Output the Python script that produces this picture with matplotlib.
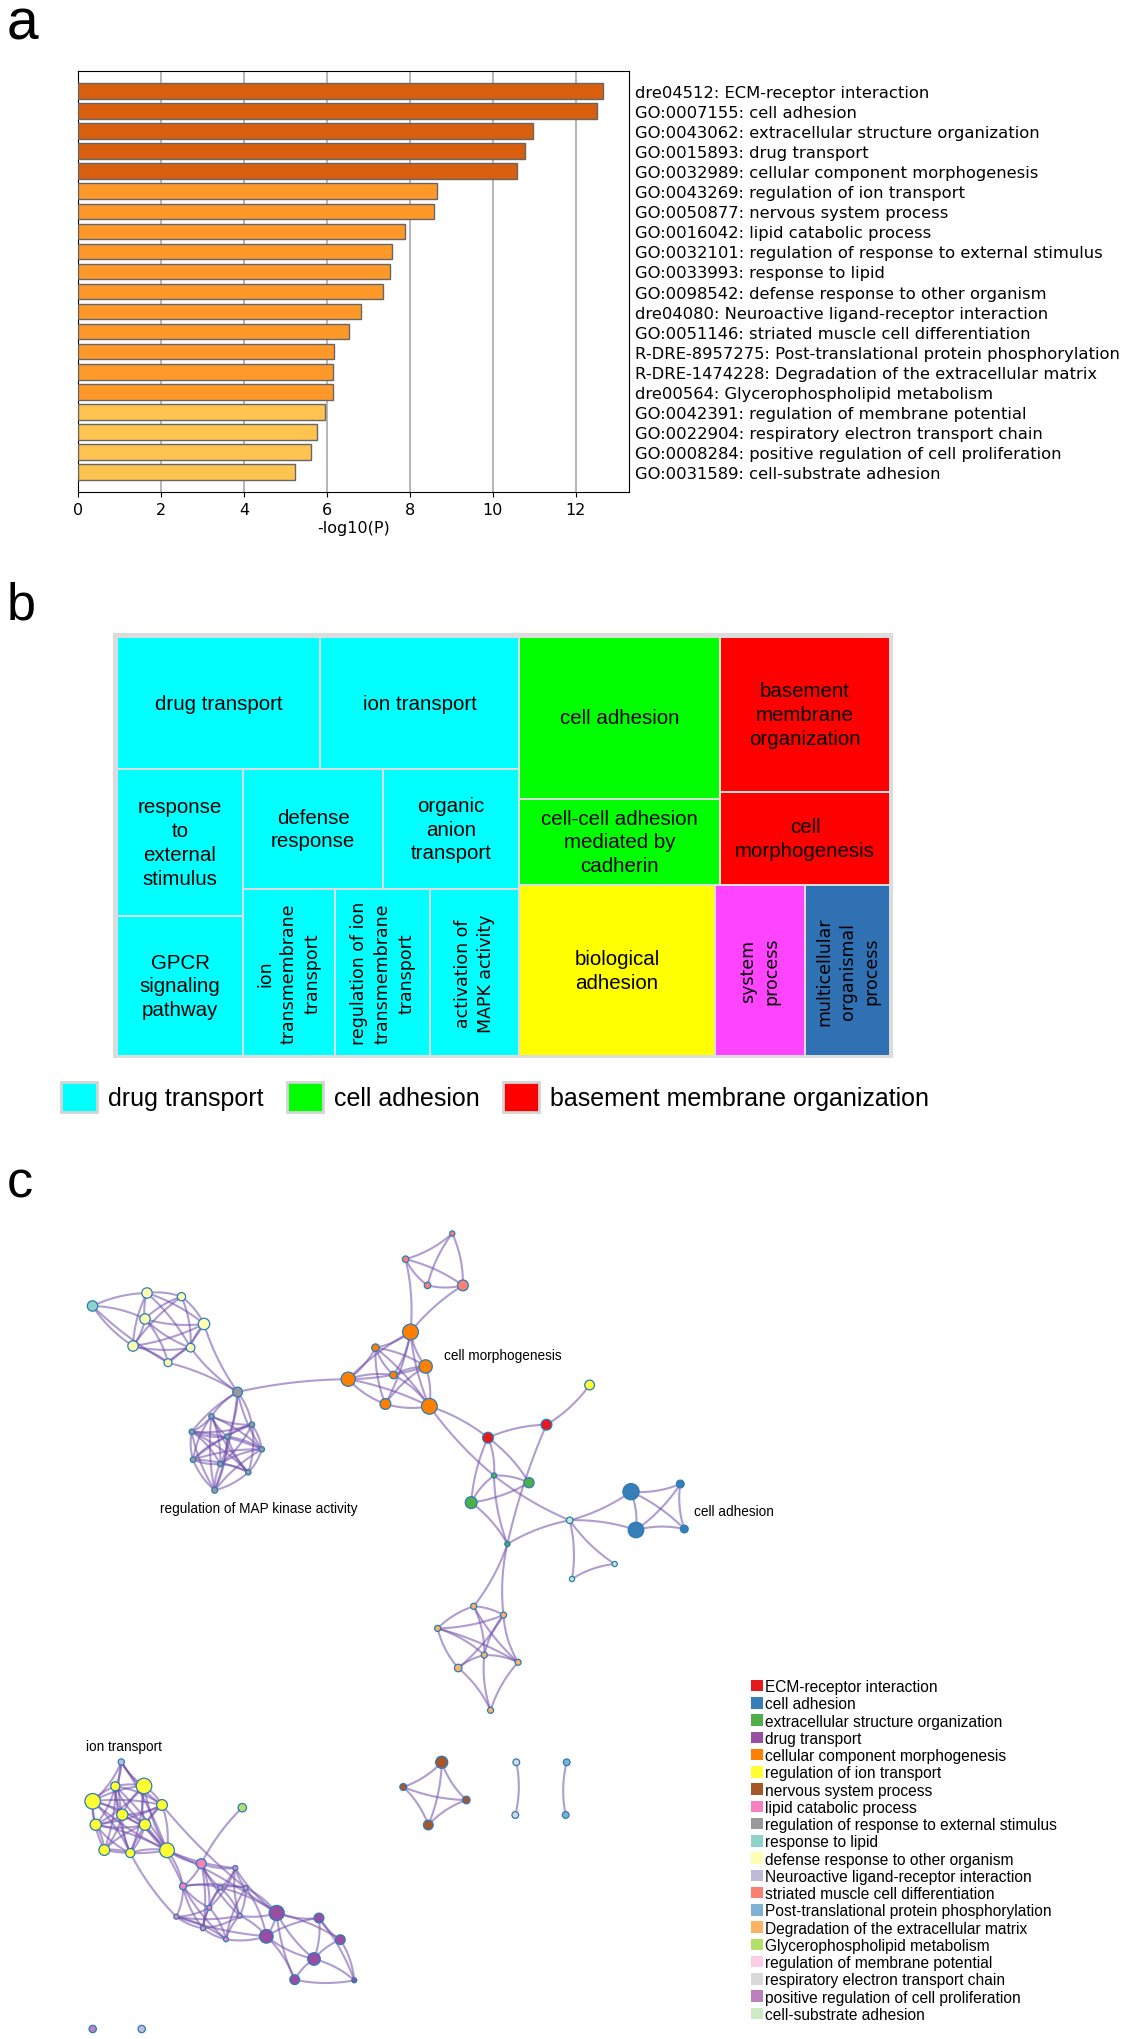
import numpy as np
import matplotlib.pyplot as plt
from matplotlib.patches import Rectangle, Patch
from matplotlib.collections import LineCollection

W, H = 1126, 2040

# ---------------- panel a: enrichment bars ----------------
terms = [
    "dre04512: ECM-receptor interaction",
    "GO:0007155: cell adhesion",
    "GO:0043062: extracellular structure organization",
    "GO:0015893: drug transport",
    "GO:0032989: cellular component morphogenesis",
    "GO:0043269: regulation of ion transport",
    "GO:0050877: nervous system process",
    "GO:0016042: lipid catabolic process",
    "GO:0032101: regulation of response to external stimulus",
    "GO:0033993: response to lipid",
    "GO:0098542: defense response to other organism",
    "dre04080: Neuroactive ligand-receptor interaction",
    "GO:0051146: striated muscle cell differentiation",
    "R-DRE-8957275: Post-translational protein phosphorylation",
    "R-DRE-1474228: Degradation of the extracellular matrix",
    "dre00564: Glycerophospholipid metabolism",
    "GO:0042391: regulation of membrane potential",
    "GO:0022904: respiratory electron transport chain",
    "GO:0008284: positive regulation of cell proliferation",
    "GO:0031589: cell-substrate adhesion",
]
logp = [12.66, 12.51, 10.97, 10.77, 10.57, 8.66, 8.57, 7.88, 7.57, 7.51,
        7.36, 6.82, 6.54, 6.17, 6.14, 6.14, 5.96, 5.77, 5.62, 5.23]

# ---------------- panel b: treemap ----------------
tm_labels = ["drug transport", "ion transport", "response\nto\nexternal\nstimulus",
             "defense\nresponse", "organic\nanion\ntransport", "GPCR\nsignaling\npathway",
             "ion\ntransmembrane\ntransport", "regulation of ion\ntransmembrane\ntransport",
             "activation of\nMAPK activity", "cell adhesion",
             "cell-cell adhesion\nmediated by\ncadherin", "basement\nmembrane\norganization",
             "cell\nmorphogenesis", "biological\nadhesion", "system\nprocess",
             "multicellular\norganismal\nprocess"]
tm_x0 = [0, 203, 0, 126, 266, 0, 126, 218, 313, 402, 402, 603, 603, 402, 598, 688]
tm_x1 = [203, 402, 126, 266, 402, 126, 218, 313, 402, 603, 603, 773, 773, 598, 688, 773]
tm_y0 = [0, 0, 132, 132, 132, 279, 252, 252, 252, 0, 162, 0, 155, 248, 248, 248]
tm_y1 = [132, 132, 279, 252, 252, 419, 419, 419, 419, 162, 248, 155, 248, 419, 419, 419]
tm_group = ["drug"] * 9 + ["adh"] * 2 + ["bm"] * 2 + ["bio", "sys", "multi"]
tm_vertical = [0, 0, 0, 0, 0, 0, 1, 1, 1, 0, 0, 0, 0, 0, 1, 1]
group_colors = {"drug": "#00FFFF", "adh": "#00FF00", "bm": "#FF0000",
                "bio": "#FFFF00", "sys": "#FF44FF", "multi": "#3071B3"}

# ---------------- panel c: network ----------------
cat_names = ["ECM-receptor interaction", "cell adhesion", "extracellular structure organization",
             "drug transport", "cellular component morphogenesis", "regulation of ion transport",
             "nervous system process", "lipid catabolic process",
             "regulation of response to external stimulus", "response to lipid",
             "defense response to other organism", "Neuroactive ligand-receptor interaction",
             "striated muscle cell differentiation", "Post-translational protein phosphorylation",
             "Degradation of the extracellular matrix", "Glycerophospholipid metabolism",
             "regulation of membrane potential", "respiratory electron transport chain",
             "positive regulation of cell proliferation", "cell-substrate adhesion"]
cat_colors = ["#E41A1C", "#377EB8", "#4DAF4A", "#984EA3", "#FF7F00", "#FFFF33", "#A65628",
              "#F781BF", "#999999", "#8DD3C7", "#FFFFB3", "#BEBADA", "#FB8072", "#80B1D3",
              "#FDB462", "#B3DE69", "#FCCDE5", "#D9D9D9", "#BC80BD", "#CCEBC5"]

node_id = ["D0", "D1", "D2", "D3", "D4", "D5", "D6", "D7", "G0",
           "M0", "M1", "M2", "M3", "M4", "M5", "M6", "M7", "M8",
           "O0", "O1", "O2", "O3", "O4", "O5", "O6",
           "S0", "S1", "S2", "S3", "Y0", "R0", "R1",
           "G1", "G2", "G3", "G4", "P0", "P1", "P2", "B0", "B1", "B2", "B3",
           "E0", "E1", "E2", "E3", "E4", "E5", "E6",
           "L0", "I1", "I2", "I3", "I4", "I5", "I6", "I7", "I8", "I9", "I10", "GL",
           "K0", "K1", "K2", "K3", "K4", "K5", "K6", "K7", "K8", "K9",
           "U0", "U1", "U2", "U3", "U4", "U5", "U6",
           "N0", "N1", "N2", "N3", "T0", "T1", "Q0", "Q1", "X0", "X1"]
node_x = [92.5, 147, 181.5, 145, 204, 133, 190.6, 168, 237.6,
          211.5, 251.9, 191.8, 227.4, 261.8, 193, 220.2, 248.3, 214.7,
          410.5, 375.5, 425.6, 393.4, 348.2, 385.4, 429.4,
          452.3, 405.6, 427.5, 462.9, 589.6, 488, 546.5,
          494, 529, 471.2, 507.4, 569.7, 614.7, 572, 631, 636, 680.3, 684.3,
          473.7, 503.5, 437.6, 484.3, 458.2, 518.1, 490.6,
          121.3, 115.3, 144, 92.7, 162, 122.3, 95.7, 145, 104.3, 130.3, 167, 242.3,
          201.3, 235.3, 183, 220.3, 245.7, 209.3, 176.3, 239.7, 203, 226,
          276.7, 266.3, 319, 340.3, 314, 294.7, 354.3,
          441.7, 403.3, 466.3, 428.3, 516.3, 515.3, 566.7, 565.7, 92.7, 141.7]
node_y = [1307, 1294, 1297.7, 1320, 1325, 1347, 1348.7, 1363.7, 1393,
          1417.3, 1425.7, 1432.7, 1437.7, 1450.3, 1460.7, 1465, 1473.3, 1491.3,
          1333, 1348.7, 1367.5, 1376, 1380.2, 1405, 1407.3,
          1234.5, 1260.2, 1286.4, 1286.4, 1386, 1438.7, 1425.7,
          1476.5, 1483.7, 1503.6, 1545, 1521.3, 1565, 1580, 1492.7, 1531, 1485, 1530,
          1607.3, 1616.1, 1629.4, 1656.1, 1669, 1663.3, 1711.3,
          1763, 1787.3, 1787, 1802.3, 1806, 1815.7, 1825.7, 1825.7, 1851, 1854, 1851.3, 1808.7,
          1864.7, 1869, 1887.3, 1888.7, 1889, 1908.7, 1917.7, 1916.7, 1929.3, 1940.3,
          1914, 1937.3, 1919, 1940.7, 1960, 1980.7, 1981.3,
          1763.3, 1788, 1801, 1826, 1763.3, 1816, 1763.3, 1816, 2030, 2030]
node_r = [4.8, 4.8, 3.8, 4.8, 5.3, 4.8, 4.0, 3.7, 4.5,
          2.5, 2.5, 2.5, 2.5, 2.5, 2.5, 2.5, 2.5, 2.7,
          7.3, 3.5, 6.2, 3.5, 6.6, 5.0, 7.3,
          2.4, 3.0, 3.0, 5.0, 4.5, 5.0, 5.0,
          2.4, 4.7, 5.5, 2.4, 3.0, 2.4, 2.4, 7.5, 7.2, 3.6, 3.6,
          2.8, 2.8, 2.8, 2.8, 3.5, 2.8, 2.8,
          2.9, 4.2, 7.2, 7.2, 5.0, 5.2, 5.2, 5.2, 5.0, 4.2, 6.8, 3.9,
          4.6, 2.3, 3.2, 2.3, 2.3, 2.3, 2.3, 2.3, 2.3, 2.3,
          7.0, 6.3, 4.5, 4.5, 5.8, 4.5, 2.3,
          5.6, 3.2, 3.5, 4.5, 3.1, 3.1, 3.1, 3.1, 3.4, 3.4]
node_cat = [9, 10, 10, 10, 10, 10, 10, 10, 8,
            8, 8, 8, 8, 8, 8, 8, 8, 8,
            4, 4, 4, 4, 4, 4, 4,
            12, 12, 12, 12, 5, 0, 0,
            2, 2, 2, 2, 19, 19, 19, 1, 1, 1, 1,
            14, 14, 14, 14, 14, 14, 14,
            11, 5, 5, 5, 5, 5, 5, 5, 5, 5, 5, 15,
            7, 7, 7, 7, 7, 7, 7, 7, 7, 7,
            3, 3, 3, 3, 3, 3, 3,
            6, 6, 6, 6, 17, 17, 13, 13, 18, 11]

edges = """
D0-D1 D0-D5 D0-D3 D0-D7 D1-D2 D1-D3 D1-D4 D1-D5 D1-D6 D2-D3 D2-D4 D2-D5 D2-D6 D3-D4 D3-D5
D3-D6 D4-D5 D4-D6 D4-D7 D5-D6 D5-D7 D6-D7 D3-D7 D4-G0 D7-G0 D6-G0 G0-O4
G0-M0 G0-M1 G0-M2 G0-M3 G0-M4 G0-M8 M0-M1 M0-M2 M0-M3 M0-M4 M0-M5 M0-M6 M0-M8 M1-M2 M1-M3
M1-M4 M1-M5 M1-M7 M2-M3 M2-M4 M2-M5 M2-M6 M2-M8 M3-M4 M3-M5 M3-M6 M3-M7 M3-M8 M4-M6 M4-M7
M5-M6 M5-M7 M5-M8 M6-M7 M6-M8 M7-M8 M4-M8 M1-M6 M0-M7 M2-M7 M4-M5
O0-O1 O0-O2 O0-O3 O0-O4 O0-O5 O0-O6 O1-O2 O1-O3 O1-O4 O1-O5 O1-O6 O2-O3 O2-O4 O2-O5 O2-O6
O3-O4 O3-O6 O4-O5 O4-O6 O5-O6 S1-O0 S3-O0
S0-S1 S0-S2 S0-S3 S1-S2 S1-S3 S2-S3
O6-R0 O6-G1 R0-R1 R1-Y0 R0-G1 R0-G3 R0-G2 R1-G4 G1-G2 G1-G3 G2-G3 G1-G4 G3-G4 G1-P0
G4-P0 P0-B0 P0-B1 P0-P1 P0-P2 P1-P2 B0-B1 B0-B2 B0-B3 B1-B2 B1-B3 B2-B3 G4-E0 G4-E1
E0-E1 E0-E2 E0-E3 E0-E5 E1-E2 E1-E3 E1-E4 E1-E5 E2-E3 E2-E4 E2-E5 E3-E4 E3-E5 E3-E6 E4-E6
E5-E6
L0-I1 L0-I2 L0-I3 L0-I4 L0-I10 L0-I5 I1-I2 I1-I3 I1-I4 I1-I5 I1-I6 I1-I7 I1-I8 I1-I9 I1-I10
I2-I3 I2-I4 I2-I5 I2-I6 I2-I7 I2-I9 I2-I10 I3-I5 I3-I6 I3-I7 I3-I8 I3-I9 I3-I10 I4-I5 I4-I7
I4-I10 I4-I9 I5-I6 I5-I7 I5-I8 I5-I9 I5-I10 I6-I7 I6-I8 I6-I9 I6-I10 I7-I8 I7-I9 I7-I10
I8-I9 I8-I10 I9-I10 I10-K0 I10-K2 I10-K1 I7-K2 I4-K4 I10-U0 I9-K6 I3-I4 I6-I4
K0-GL K0-K1 K0-K2 K0-K3 K0-K5 K0-K7 K1-K3 K1-K4 K1-K5 K1-K7 K2-K3 K2-K5 K2-K6 K2-K8 K3-K4
K3-K5 K3-K7 K3-K8 K4-K7 K4-K9 K5-K6 K5-K8 K5-K9 K6-K8 K6-K9 K7-K9 K7-K8 K8-K9 K2-K4 K6-K7
K4-U0 K7-U0 K7-U1 K9-U1 K3-U0 K1-U0 K4-U1 K6-U1 K0-K8 K2-K9
U0-U1 U0-U2 U0-U3 U0-U4 U1-U2 U1-U4 U1-U5 U2-U3 U2-U4 U3-U4 U3-U6 U4-U5 U4-U6 U5-U6 U2-U6
U0-U5
N0-N1 N0-N2 N0-N3 N1-N2 N1-N3 N2-N3 T0-T1 Q0-Q1
""".split()

net_labels = ["cell morphogenesis", "regulation of MAP kinase activity", "cell adhesion", "ion transport"]

# ======================= drawing =======================
fig = plt.figure(figsize=(W / 100, H / 100), dpi=100)
fig.patch.set_facecolor("white")

# --- a
ax = fig.add_axes([78 / W, 1 - 493 / H, 551 / W, 421 / H])
pos = np.arange(len(terms))
colors = ["#D95F0E" if v > 10 else "#FE9929" if v > 6 else "#FEC44F" for v in logp]
ax.barh(pos, logp, height=0.78, color=colors, edgecolor="#666666", linewidth=1.0, zorder=3)
ax.set_ylim(len(terms), -1)
ax.set_xlim(0, 13.28)
ax.set_xticks(range(0, 13, 2))
ax.grid(axis="x", color="#b5b5b5", linewidth=1.4, zorder=0)
ax.set_axisbelow(True)
ax.yaxis.tick_right()
ax.set_yticks(pos)
ax.set_yticklabels(terms, fontsize=11.8)
ax.tick_params(axis="y", length=0, pad=4.2)
ax.tick_params(axis="x", labelsize=11.5)
ax.set_xlabel("-log10(P)", fontsize=11.5, labelpad=2.5)

# --- b
axb = fig.add_axes([113 / W, 1 - 1059 / H, 780 / W, 425 / H])
axb.set_xlim(-4, 776)
axb.set_ylim(421, -4)
axb.set_facecolor("#dcdcdc")
axb.set_xticks([])
axb.set_yticks([])
for s in axb.spines.values():
    s.set_visible(False)
for lab, x0, x1, y0, y1, g, vert in zip(tm_labels, tm_x0, tm_x1, tm_y0, tm_y1, tm_group, tm_vertical):
    axb.add_patch(Rectangle((x0 + 1.2, y0 + 1.2), x1 - x0 - 2.4, y1 - y0 - 2.4,
                            facecolor=group_colors[g], edgecolor="none"))
    cx, cy = (x0 + x1) / 2, (y0 + y1) / 2
    if vert:
        axb.text(cx, cy, lab, rotation=90, ha="center", va="center", multialignment="center",
                 fontsize=12.5, family="DejaVu Sans", linespacing=1.4)
    else:
        axb.text(cx, cy, lab, ha="center", va="center", multialignment="center",
                 fontsize=14.8, family="Liberation Sans", linespacing=1.32)

leg_b = [Patch(facecolor=group_colors[g], edgecolor="#d4d4d4", linewidth=2) for g in ["drug", "adh", "bm"]]
fig.legend(leg_b, ["drug transport", "cell adhesion", "basement membrane organization"],
           loc="center left", bbox_to_anchor=(61 / W, 1 - 1098 / H), ncol=3, frameon=False,
           borderpad=0, borderaxespad=0, handlelength=1.42, handleheight=1.42,
           handletextpad=0.45, columnspacing=0.95, prop={"family": "Liberation Sans", "size": 18})

# --- c
axc = fig.add_axes([0, 0, 1, 1])
axc.set_xlim(0, W)
axc.set_ylim(H, 0)
axc.axis("off")

idx = {n: i for i, n in enumerate(node_id)}
nx_, ny_ = np.array(node_x), np.array(node_y)
t = np.linspace(0, 1, 30)[:, None]
segs = []
for k, e in enumerate(edges):
    a, b = e.split("-")
    p = np.array([nx_[idx[a]], ny_[idx[a]]])
    q = np.array([nx_[idx[b]], ny_[idx[b]]])
    d = q - p
    L = np.hypot(*d)
    off = min(0.12 * L, 6.0) * (1 if k % 2 else -1)
    c = (p + q) / 2 + off * np.array([-d[1], d[0]]) / L
    segs.append((1 - t) ** 2 * p + 2 * (1 - t) * t * c + t ** 2 * q)
axc.add_collection(LineCollection(segs, colors=[(0.44, 0.30, 0.67, 0.55)], linewidths=1.5, zorder=1))

sizes = [(2 * r * 1.08 * 0.72) ** 2 for r in node_r]
axc.scatter(nx_, ny_, s=sizes, c=[cat_colors[c] for c in node_cat],
            edgecolors="#2B7BB9", linewidths=0.9, zorder=2)

lab_font = {"family": "Liberation Sans", "size": 9.8}
axc.text(444, 1356, net_labels[0], ha="left", va="center", fontdict=lab_font)
axc.text(258.5, 1509, net_labels[1], ha="center", va="center", fontdict=lab_font)
axc.text(694, 1512, net_labels[2], ha="left", va="center", fontdict=lab_font)
axc.text(86, 1747, net_labels[3], ha="left", va="center", fontdict=lab_font)

leg_c = [Patch(facecolor=c, edgecolor="none") for c in cat_colors]
axc.legend(leg_c, cat_names, loc="upper left", bbox_to_anchor=(750.7 / W, 1 - 1680 / H),
           bbox_transform=fig.transFigure, frameon=False, borderpad=0, borderaxespad=0,
           handlelength=0.77, handleheight=0.77, handletextpad=0.15, labelspacing=0.145,
           prop={"family": "Liberation Sans", "size": 11.2})

# panel letters
for letter, yb, fs in [("a", 39, 41), ("b", 620, 37.5), ("c", 1197, 37.5)]:
    fig.text(7 / W, 1 - yb / H, letter, fontsize=fs, family="Liberation Sans", va="baseline")

fig.savefig("out.png", dpi=100)
